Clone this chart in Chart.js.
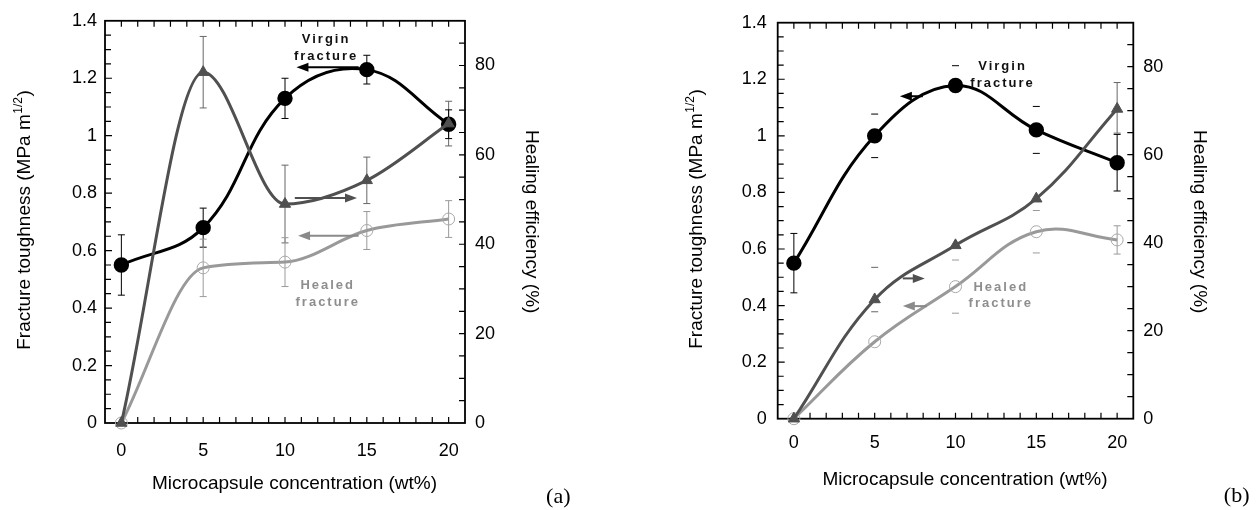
<!DOCTYPE html>
<html><head><meta charset="utf-8">
<script src="https://cdn.jsdelivr.net/npm/chart.js@4.4.0/dist/chart.umd.min.js"></script>
<style>
html,body{margin:0;padding:0;background:#fff;}
#wrap{position:relative;width:1260px;height:510px;overflow:hidden;}
canvas{position:absolute;top:0;}
</style></head><body>
<div id="wrap">
<canvas id="ca" width="630" height="510" style="left:0px"></canvas>
<canvas id="cb" width="630" height="510" style="left:630px"></canvas>
</div>
<script>
// ---------- data ----------
const xValues = [0, 5, 10, 15, 20];
const xTickValues = [0, 5, 10, 15, 20];
const leftTickValues = [0, 0.2, 0.4, 0.6, 0.8, 1, 1.2, 1.4];
const rightTickValues = [0, 20, 40, 60, 80];

const xTitle = 'Microcapsule concentration (wt%)';
const yTitleMain = 'Fracture toughness (MPa m';
const yTitleSup = '1/2';
const yTitleEnd = ')';
const y2Title = 'Healing efficiency (%)';

// panel (a)
const virginA = [0.55, 0.68, 1.13, 1.23, 1.04];
const virginErrA = [0.105, 0.068, 0.07, 0.05, 0.05];
const healedA = [0, 0.54, 0.56, 0.67, 0.71];
const healedErrA = [0, 0.1, 0.085, 0.066, 0.064];
const effA = [0, 78.5, 49, 54.3, 67];
const effErrA = [0, 8, 8.7, 5.2, 5];
const arrowsA = [[14.5, 10.7, 1.238], [10.6, 14.4, 0.783], [14.5, 10.8, 0.652]];
const labelTextA = ['Virgin', 'fracture', 'Healed', 'fracture'];
const labelXA = [12.45, 12.45, 12.55, 12.55];
const labelYA = [1.334, 1.275, 0.479, 0.421];

// panel (b)
const virginB = [0.55, 1.0, 1.178, 1.021, 0.905];
const virginErrB = [0.105, 0.077, 0.07, 0.083, 0.1];
const virginErrDownB = [0.105, 0.077, 0, 0.083, 0.1];
const healedB = [0, 0.272, 0.467, 0.661, 0.632];
const healedErrB = [0, 0, 0.094, 0.075, 0.05];
const effB = [0, 27.1, 39.4, 50.0, 70.4];
const effErrB = [0, 7.3, 0, 0, 6];
const effErrDownB = [0, 2.8, 0, 0, 5.5];
const arrowsB = [[7.98, 6.56, 1.14], [6.74, 8.1, 0.496], [8.23, 6.74, 0.398]];
const labelTextB = ['Virgin', 'fracture', 'Healed', 'fracture'];
const labelXB = [12.85, 12.85, 12.74, 12.74];
const labelYB = [1.244, 1.186, 0.4645, 0.408];

// ---------- styling ----------
const SANS = '"Liberation Sans", Arial, Helvetica, sans-serif';
const C_VIRGIN = '#000000';
const C_EFF = '#505050';
const C_HEALED = '#999999';
const C_HEALED_TXT = '#8e8e8e';

function pts(arr) { return xValues.map((x, i) => ({ x: x, y: arr[i] })); }

function makeDecor(P) {
  return {
    id: 'decor',
    beforeDatasetsDraw(chart) {
      const ctx = chart.ctx, a = chart.chartArea;
      const sx = chart.scales.x, sy = chart.scales.y, sy2 = chart.scales.y2;
      ctx.save();
      ctx.strokeStyle = '#000';
      ctx.lineWidth = 1.2;
      ctx.beginPath();
      for (let k = -1; k <= 21; k++) {
        const px = sx.getPixelForValue(k);
        if (px <= a.left + 1 || px >= a.right - 1) continue;
        ctx.moveTo(px, a.bottom); ctx.lineTo(px, a.bottom - 6);
        ctx.moveTo(px, a.top); ctx.lineTo(px, a.top + 6);
      }
      for (let k = 1; k < 28; k++) {
        const py = sy.getPixelForValue(k * 0.05);
        ctx.moveTo(a.left, py); ctx.lineTo(a.left + (k % 4 === 0 ? 7 : 6), py);
      }
      for (let k = 1; k <= 17; k++) {
        const py = sy2.getPixelForValue(k * 5);
        ctx.moveTo(a.right, py); ctx.lineTo(a.right - 6, py);
      }
      ctx.stroke();
      ctx.lineWidth = 1.8;
      ctx.strokeRect(a.left, a.top, a.right - a.left, a.bottom - a.top);
      chart.data.datasets.forEach((ds, i) => {
        if (!ds.err) return;
        const meta = chart.getDatasetMeta(i);
        const ys = chart.scales[ds.yAxisID];
        ctx.strokeStyle = ds.errColor;
        ctx.lineWidth = 1;
        ds.data.forEach((p, j) => {
          const eu = ds.err[j];
          const ed = ds.errDown ? ds.errDown[j] : eu;
          if (!eu && !ed) return;
          const x = meta.data[j].x;
          const yt = ys.getPixelForValue(p.y + eu), yb = ys.getPixelForValue(p.y - ed);
          ctx.beginPath();
          if (!ds.errStem || ds.errStem[j]) { ctx.moveTo(x, yt); ctx.lineTo(x, yb); }
          if (eu) { ctx.moveTo(x - 3.5, yt); ctx.lineTo(x + 3.5, yt); }
          if (ed) { ctx.moveTo(x - 3.5, yb); ctx.lineTo(x + 3.5, yb); }
          ctx.stroke();
        });
      });
      ctx.restore();
    },
    afterDatasetsDraw(chart) {
      const ctx = chart.ctx;
      const sx = chart.scales.x, sy = chart.scales.y;
      ctx.save();
      P.arrows.forEach((ar, k) => {
        const x1 = sx.getPixelForValue(ar[0]), x2 = sx.getPixelForValue(ar[1]), y = sy.getPixelForValue(ar[2]);
        const dir = Math.sign(x2 - x1);
        ctx.strokeStyle = P.arrowColors[k];
        ctx.fillStyle = P.arrowColors[k];
        ctx.lineWidth = 2;
        ctx.beginPath(); ctx.moveTo(x1, y); ctx.lineTo(x2 - dir * 8, y); ctx.stroke();
        ctx.beginPath();
        ctx.moveTo(x2, y); ctx.lineTo(x2 - dir * 12, y - 4.5); ctx.lineTo(x2 - dir * 12, y + 4.5);
        ctx.closePath(); ctx.fill();
      });
      ctx.font = 'bold 13px ' + SANS;
      ctx.letterSpacing = '2px';
      ctx.textAlign = 'center';
      ctx.textBaseline = 'middle';
      P.labelText.forEach((t, k) => {
        ctx.fillStyle = P.labelColors[k];
        ctx.fillText(t, sx.getPixelForValue(P.labelX[k]) + 1, sy.getPixelForValue(P.labelY[k]));
      });
      ctx.restore();
    },
    afterDraw(chart) {
      const ctx = chart.ctx;
      ctx.save();
      ctx.fillStyle = '#000';
      ctx.textBaseline = 'middle';
      ctx.font = '19px ' + SANS;
      ctx.textAlign = 'center';
      ctx.fillText(xTitle, P.tX[0], P.tX[1]);
      ctx.save();
      ctx.translate(P.tY[0], P.tY[1]);
      ctx.rotate(-Math.PI / 2);
      ctx.textAlign = 'left';
      ctx.font = '19px ' + SANS;
      const w1 = ctx.measureText(yTitleMain).width;
      const w3 = ctx.measureText(yTitleEnd).width;
      ctx.font = '12px ' + SANS;
      const w2 = ctx.measureText(yTitleSup).width;
      let x0 = -(w1 + w2 + w3 + 1) / 2;
      ctx.font = '19px ' + SANS;
      ctx.fillText(yTitleMain, x0, 0);
      ctx.font = '12px ' + SANS;
      ctx.fillText(yTitleSup, x0 + w1 + 0.5, -6);
      ctx.font = '19px ' + SANS;
      ctx.fillText(yTitleEnd, x0 + w1 + w2 + 1, 0);
      ctx.restore();
      ctx.save();
      ctx.translate(P.tY2[0], P.tY2[1]);
      ctx.rotate(Math.PI / 2);
      ctx.textAlign = 'center';
      ctx.font = '19px ' + SANS;
      ctx.fillText(y2Title, 0, 0);
      ctx.restore();
      ctx.font = '22px "Liberation Serif", "Times New Roman", serif';
      ctx.textAlign = 'center';
      ctx.fillText(P.tag, P.tTag[0], P.tTag[1]);
      ctx.restore();
    }
  };
}

function makeChart(P) {
  const canvas = document.getElementById(P.id);
  const W = canvas.width, H = canvas.height;
  const tickFont = { family: SANS, size: 18 };
  const noGrid = { display: false, drawTicks: false, tickLength: 0 };
  return new Chart(canvas, {
    type: 'line',
    data: {
      datasets: [
        {
          label: 'Healing efficiency', data: pts(P.eff), yAxisID: 'y2', order: 0,
          borderColor: C_EFF, borderWidth: 3, pointStyle: 'triangle', pointRadius: 6.5,
          pointBackgroundColor: C_EFF, pointBorderColor: C_EFF, pointBorderWidth: 1,
          cubicInterpolationMode: P.modes[0], tension: 0.4, clip: false,
          err: P.effErr, errDown: P.effErrDown, errColor: '#666', errStem: P.effStem
        },
        {
          label: 'Virgin fracture', data: pts(P.virgin), yAxisID: 'y', order: 1,
          borderColor: C_VIRGIN, borderWidth: 3, pointStyle: 'circle', pointRadius: 6.2,
          pointBackgroundColor: C_VIRGIN, pointBorderColor: C_VIRGIN,
          cubicInterpolationMode: P.modes[1], tension: 0.4, clip: false,
          err: P.virginErr, errDown: P.virginErrDown, errColor: '#000', errStem: P.virginStem
        },
        {
          label: 'Healed fracture', data: pts(P.healed), yAxisID: 'y', order: 2,
          borderColor: C_HEALED, borderWidth: 3, pointStyle: 'circle', pointRadius: 6,
          pointBackgroundColor: 'rgba(255,255,255,0)', pointBorderColor: '#a8a8a8', pointBorderWidth: 1,
          cubicInterpolationMode: P.modes[2], tension: 0.4, clip: false,
          err: P.healedErr, errColor: '#9a9a9a', errStem: P.healedStem
        }
      ]
    },
    options: {
      responsive: false, animation: false, events: [],
      layout: { padding: { top: P.area.top, left: 0, right: 0, bottom: 0 } },
      plugins: { legend: { display: false }, tooltip: { enabled: false } },
      scales: {
        x: {
          type: 'linear', position: 'bottom', min: -1, max: 21,
          grid: noGrid, border: { display: false },
          afterBuildTicks: s => { s.ticks = xTickValues.map(v => ({ value: v })); },
          afterFit: s => { s.height = H - P.area.bottom; },
          ticks: { font: tickFont, color: '#000', padding: P.xPad, maxRotation: 0, autoSkip: false, callback: v => String(v) }
        },
        y: {
          type: 'linear', position: 'left', min: 0, max: 1.4,
          grid: noGrid, border: { display: false },
          afterBuildTicks: s => { s.ticks = leftTickValues.map(v => ({ value: v })); },
          afterFit: s => { s.width = P.area.left; },
          ticks: { font: tickFont, color: '#000', padding: P.yPad, autoSkip: false, callback: v => String(+v.toFixed(2)) }
        },
        y2: {
          type: 'linear', position: 'right', min: 0, max: 90,
          grid: noGrid, border: { display: false },
          afterBuildTicks: s => { s.ticks = rightTickValues.map(v => ({ value: v })); },
          afterFit: s => { s.width = W - P.area.right; },
          ticks: { font: tickFont, color: '#000', padding: P.y2Pad, autoSkip: false, callback: v => String(v) }
        }
      }
    },
    plugins: [makeDecor(P)]
  });
}

makeChart({
  id: 'ca', area: { left: 105, right: 465, top: 20, bottom: 423 },
  xPad: 17, yPad: 8, y2Pad: 10,
  modes: ['monotone', 'default', 'monotone'],
  virgin: virginA, virginErr: virginErrA,
  healed: healedA, healedErr: healedErrA,
  eff: effA, effErr: effErrA,
  arrows: arrowsA, arrowColors: [C_VIRGIN, C_EFF, '#8a8a8a'],
  labelText: labelTextA, labelX: labelXA, labelY: labelYA,
  labelColors: ['#111', '#111', C_HEALED_TXT, C_HEALED_TXT],
  tX: [294.5, 483.3], tY: [25, 220], tY2: [531.7, 221.7], tag: '(a)', tTag: [558.3, 497.3]
});

makeChart({
  id: 'cb', area: { left: 147.7, right: 503.3, top: 22.7, bottom: 418.7 },
  xPad: 14, yPad: 11, y2Pad: 10,
  modes: ['default', 'default', 'default'],
  virgin: virginB, virginErr: virginErrB, virginErrDown: virginErrDownB, virginStem: [true, false, false, false, true],
  healed: healedB, healedErr: healedErrB, healedStem: [false, false, false, false, true],
  eff: effB, effErr: effErrB, effErrDown: effErrDownB, effStem: [false, false, false, false, true],
  arrows: arrowsB, arrowColors: [C_VIRGIN, C_EFF, '#8a8a8a'],
  labelText: labelTextB, labelX: labelXB, labelY: labelYB,
  labelColors: ['#111', '#111', C_HEALED_TXT, C_HEALED_TXT],
  tX: [335, 480], tY: [66.7, 219], tY2: [569.3, 221.7], tag: '(b)', tTag: [606.7, 496.7]
});
</script>
</body></html>
